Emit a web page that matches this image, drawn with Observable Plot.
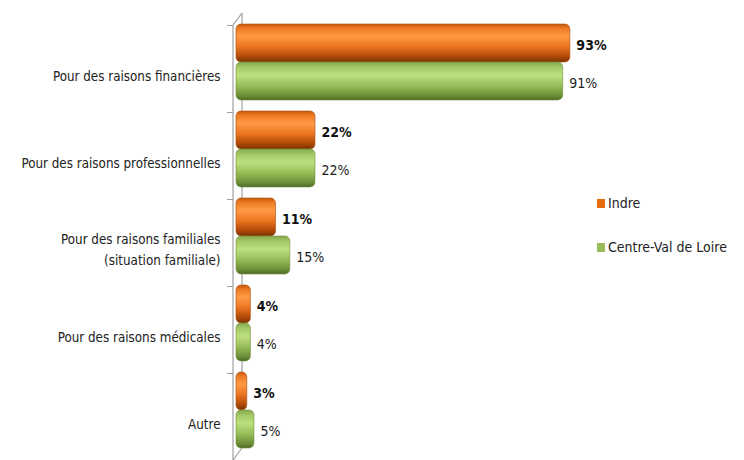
<!DOCTYPE html>
<html>
<head>
<meta charset="utf-8">
<script src="https://cdn.jsdelivr.net/npm/d3@7"></script>
<script src="https://cdn.jsdelivr.net/npm/@observablehq/plot@0.6"></script>
<style>
  html, body { margin: 0; padding: 0; background: #fff; }
  #wrap { position: relative; width: 744px; height: 460px; font-family: 'Liberation Sans Narrow','DejaVu Sans Condensed',sans-serif; }
  #legend { position: absolute; left: 597px; top: 193px; font-size: 14px; color: #222; }
  #legend .item { display: flex; align-items: center; height: 20px; margin-bottom: 24px; }
  #legend .sw { width: 8px; height: 9px; margin-right: 3px; }
</style>
</head>
<body>
<div id="wrap"></div>
<script>
const categories = [
  "Pour des raisons financières",
  "Pour des raisons professionnelles",
  "Pour des raisons familiales\n(situation familiale)",
  "Pour des raisons médicales",
  "Autre"
];
const seriesNames = ["Indre", "Centre-Val de Loire"];
const indreValues = [93, 22, 11, 4, 3];
const cvlValues = [91, 22, 15, 4, 5];
const seriesColors = ["#e46c0a", "#9bbb59"];

const rowsIndre = categories.map((c, i) => ({category: c, value: indreValues[i], series: seriesNames[0]}));
const rowsCvl = categories.map((c, i) => ({category: c, value: cvlValues[i], series: seriesNames[1]}));

function gradients() {
  const defs = d3.create("svg:defs");
  const add = (id, stops) => {
    const g = defs.append("linearGradient").attr("id", id).attr("x1", 0).attr("y1", 0).attr("x2", 0).attr("y2", 1);
    stops.forEach(([o, c]) => g.append("stop").attr("offset", o).attr("stop-color", c));
  };
  add("gO", [["0%", "#c85a0e"], ["12%", "#ee7a24"], ["32%", "#ff9b45"], ["60%", "#eb7420"], ["85%", "#b04a08"], ["100%", "#7a3300"]]);
  add("gG", [["0%", "#86a84e"], ["15%", "#a6ca66"], ["35%", "#bde07e"], ["65%", "#95b955"], ["88%", "#6d8e38"], ["100%", "#4e6b26"]]);
  return defs.node();
}

// 3D wall outline of the category axis (decoration derived from the x scale's zero)
function wall(index, scales, values, dims) {
  const x0 = scales.x(0);
  const top = dims.marginTop, bottom = dims.height - dims.marginBottom;
  const front = x0 - 3, back = x0 + 6, depth = 12;
  const g = d3.create("svg:g").attr("stroke", "#a0a0a0").attr("fill", "none").attr("stroke-width", 1.2);
  g.append("path").attr("d", `M${back},${top - depth}V${bottom - depth}`);
  g.append("path").attr("d", `M${front},${top}L${back},${top - depth}`);
  g.append("path").attr("d", `M${front},${bottom}L${back},${bottom - depth}`);
  return g.node();
}
function frontLine(index, scales, values, dims) {
  const x0 = scales.x(0);
  const g = d3.create("svg:g").attr("stroke", "#a0a0a0").attr("fill", "none").attr("stroke-width", 1.2);
  g.append("path").attr("d", `M${x0 - 3},${dims.marginTop}V${dims.height - dims.marginBottom}`);
  return g.node();
}

const chart = Plot.plot({
  width: 744,
  height: 460,
  marginLeft: 236,
  marginRight: 149,
  marginTop: 25,
  marginBottom: 0,
  x: {domain: [0, 100], axis: null},
  y: {domain: categories, padding: 0, axis: null, label: null},
  style: {fontFamily: "'Liberation Sans Narrow','DejaVu Sans Condensed',sans-serif", fontSize: "13.3px", color: "#222", background: "#fff"},
  marks: [
    gradients,
    wall,
    Plot.barX(rowsIndre, {x: "value", y: "category", fill: "url(#gO)", stroke: "#a84a08", strokeWidth: 0.6, insetTop: -1, insetBottom: 50, rx: 5}),
    Plot.barX(rowsCvl, {x: "value", y: "category", fill: "url(#gG)", stroke: "#6d8e38", strokeWidth: 0.6, insetTop: 37, insetBottom: 12, rx: 5}),
    Plot.text(rowsIndre, {x: "value", y: "category", text: d => d.value + "%", dx: 6, dy: -23, textAnchor: "start", fontWeight: "bold", fill: "#111", fontSize: 14}),
    Plot.text(rowsCvl, {x: "value", y: "category", text: d => d.value + "%", dx: 6, dy: 15, textAnchor: "start", fill: "#222", fontSize: 14}),
    frontLine,
    Plot.axisY({tickSize: 6, text: null, dy: -43.5, stroke: "#a0a0a0", dx: -3, label: null}),
    Plot.axisY({tickSize: 0, tickPadding: 16, dy: 5, fill: "#222", lineHeight: 1.6, label: null})
  ]
});

const wrap = document.getElementById("wrap");
wrap.appendChild(chart);
const legend = document.createElement("div");
legend.id = "legend";
seriesNames.forEach((n, i) => {
  const it = document.createElement("div");
  it.className = "item";
  const sw = document.createElement("span");
  sw.className = "sw";
  sw.style.background = seriesColors[i];
  const t = document.createElement("span");
  t.textContent = n;
  it.appendChild(sw);
  it.appendChild(t);
  legend.appendChild(it);
});
wrap.appendChild(legend);
</script>
</body>
</html>
